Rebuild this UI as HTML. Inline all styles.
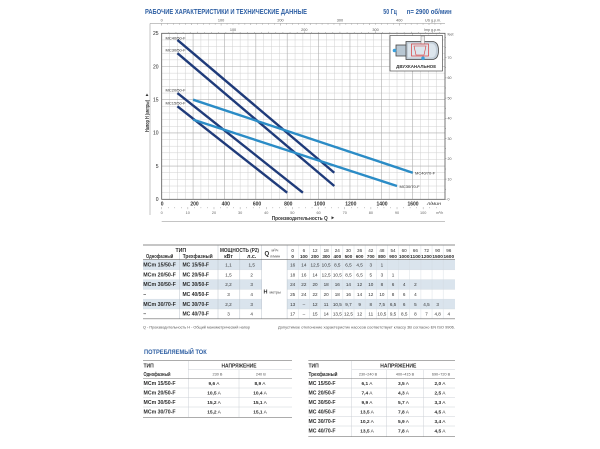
<!DOCTYPE html>
<html><head><meta charset="utf-8"><style>
html,body{margin:0;padding:0;background:#fff;}
svg{display:block;font-family:"Liberation Sans","DejaVu Sans",sans-serif;}
</style></head><body>
<svg width="600" height="449" viewBox="0 0 600 449" xmlns="http://www.w3.org/2000/svg">
<rect width="600" height="449" fill="#fff"/>

<!-- Title -->
<text x="145" y="14" font-size="7" font-weight="bold" fill="#2e5fa3" textLength="162" lengthAdjust="spacingAndGlyphs">РАБОЧИЕ ХАРАКТЕРИСТИКИ И ТЕХНИЧЕСКИЕ ДАННЫЕ</text>
<text x="383.3" y="14" font-size="7" font-weight="bold" fill="#2e5fa3" textLength="13.5" lengthAdjust="spacingAndGlyphs">50 Гц</text>
<text x="406.7" y="14" font-size="7" font-weight="bold" fill="#2e5fa3" textLength="45" lengthAdjust="spacingAndGlyphs">n= 2900 об/мин</text>

<!-- outer bracket lines -->
<path d="M150 23.5H445M150 23.5V215M161.7 221.7H445" stroke="#8a8a8a" stroke-width="0.5" fill="none"/>

<!-- grid minor -->
<path stroke="#d0d0d0" stroke-width="0.5" fill="none" d="M169.54 33.3V199.3M177.39 33.3V199.3M185.23 33.3V199.3M200.92 33.3V199.3M208.76 33.3V199.3M216.61 33.3V199.3M232.3 33.3V199.3M240.14 33.3V199.3M247.98 33.3V199.3M263.67 33.3V199.3M271.52 33.3V199.3M279.36 33.3V199.3M295.05 33.3V199.3M302.89 33.3V199.3M310.74 33.3V199.3M326.42 33.3V199.3M334.27 33.3V199.3M342.11 33.3V199.3M357.8 33.3V199.3M365.64 33.3V199.3M373.49 33.3V199.3M389.18 33.3V199.3M397.02 33.3V199.3M404.86 33.3V199.3M420.55 33.3V199.3M428.4 33.3V199.3M436.24 33.3V199.3
M161.7 192.66H445M161.7 186.02H445M161.7 179.38H445M161.7 172.74H445M161.7 159.46H445M161.7 152.82H445M161.7 146.18H445M161.7 139.54H445M161.7 126.26H445M161.7 119.62H445M161.7 112.98H445M161.7 106.34H445M161.7 93.06H445M161.7 86.42H445M161.7 79.78H445M161.7 73.14H445M161.7 59.86H445M161.7 53.22H445M161.7 46.58H445M161.7 39.94H445"/>
<!-- grid major -->
<path stroke="#adadad" stroke-width="0.6" fill="none" d="M193.08 33.3V199.3M224.45 33.3V199.3M255.83 33.3V199.3M287.2 33.3V199.3M318.58 33.3V199.3M349.96 33.3V199.3M381.33 33.3V199.3M412.71 33.3V199.3M161.7 166.1H445M161.7 132.9H445M161.7 99.7H445M161.7 66.5H445"/>
<!-- frame -->
<rect x="161.7" y="33.3" width="283.3" height="166" fill="none" stroke="#555" stroke-width="0.8"/>

<!-- top axes -->
<g stroke="#777" stroke-width="0.4">
<path d="M161.7 23.5v2M167.64 23.5v1.2M173.58 23.5v1.2M179.52 23.5v1.2M185.46 23.5v1.2M191.4 23.5v1.5M197.34 23.5v1.2M203.28 23.5v1.2M209.22 23.5v1.2M215.16 23.5v1.2M221.1 23.5v2M227.04 23.5v1.2M232.98 23.5v1.2M238.92 23.5v1.2M244.86 23.5v1.2M250.8 23.5v1.5M256.74 23.5v1.2M262.68 23.5v1.2M268.62 23.5v1.2M274.56 23.5v1.2M280.5 23.5v2M286.44 23.5v1.2M292.38 23.5v1.2M298.32 23.5v1.2M304.26 23.5v1.2M310.2 23.5v1.5M316.14 23.5v1.2M322.08 23.5v1.2M328.02 23.5v1.2M333.96 23.5v1.2M339.9 23.5v2M345.84 23.5v1.2M351.78 23.5v1.2M357.72 23.5v1.2M363.66 23.5v1.2M369.6 23.5v1.5M375.54 23.5v1.2M381.48 23.5v1.2M387.42 23.5v1.2M393.36 23.5v1.2M399.3 23.5v2M405.24 23.5v1.2M411.18 23.5v1.2M417.12 23.5v1.2M423.06 23.5v1.2M429 23.5v1.5M434.94 23.5v1.2M440.88 23.5v1.2"/>
<path d="M168.83 33.3v-1.2M175.96 33.3v-1.2M183.09 33.3v-1.2M190.22 33.3v-1.2M197.35 33.3v-1.5M204.48 33.3v-1.2M211.61 33.3v-1.2M218.74 33.3v-1.2M225.87 33.3v-1.2M233 33.3v-2M240.13 33.3v-1.2M247.26 33.3v-1.2M254.39 33.3v-1.2M261.52 33.3v-1.2M268.65 33.3v-1.5M275.78 33.3v-1.2M282.91 33.3v-1.2M290.04 33.3v-1.2M297.17 33.3v-1.2M304.3 33.3v-2M311.43 33.3v-1.2M318.56 33.3v-1.2M325.69 33.3v-1.2M332.82 33.3v-1.2M339.95 33.3v-1.5M347.08 33.3v-1.2M354.21 33.3v-1.2M361.34 33.3v-1.2M368.47 33.3v-1.2M375.6 33.3v-2M382.73 33.3v-1.2M389.86 33.3v-1.2M396.99 33.3v-1.2M404.12 33.3v-1.2M411.25 33.3v-1.5M418.38 33.3v-1.2M425.51 33.3v-1.2M432.64 33.3v-1.2M439.77 33.3v-1.2"/>
</g>
<g font-size="3.8" fill="#555" text-anchor="middle">
<text x="161.7" y="21.5">0</text><text x="221.1" y="21.5">100</text><text x="280.5" y="21.5">200</text><text x="339.9" y="21.5">300</text><text x="399.3" y="21.5">400</text>
<text x="233" y="30.8">100</text><text x="304.3" y="30.8">200</text><text x="375.6" y="30.8">300</text>
</g>
<text x="425" y="21.5" font-size="3.6" fill="#555">US g.p.m.</text>
<text x="424" y="30.8" font-size="3.6" fill="#555">Imp g.p.m.</text>

<!-- left axis labels -->
<g font-size="5" fill="#222" text-anchor="end">
<text x="158.5" y="35.1">25</text><text x="158.5" y="68.3">20</text><text x="158.5" y="101.5">15</text><text x="158.5" y="134.7">10</text><text x="158.5" y="167.9">5</text><text x="158.5" y="201.1">0</text>
</g>
<!-- y axis title -->
<text transform="translate(149,132) rotate(-90)" font-size="5" font-weight="bold" fill="#333" textLength="32" lengthAdjust="spacingAndGlyphs">Напор H (метры)</text>
<polygon points="145.6,96 148.4,96 147,93.5" fill="#333"/>

<!-- right axis feet -->
<g stroke="#666" stroke-width="0.4">
<path d="M445 199.3h1.5M445 189.2h1M445 179.1h1.5M445 169h1M445 158.8h1.5M445 148.7h1M445 138.6h1.5M445 128.5h1M445 118.3h1.5M445 108.2h1M445 98.1h1.5M445 88h1M445 77.9h1.5M445 67.7h1M445 57.6h1.5M445 47.5h1M445 37.4h1"/>
</g>
<g font-size="3.6" fill="#555">
<text x="447.5" y="200.6">0</text><text x="447.5" y="180.4">10</text><text x="447.5" y="160.1">20</text><text x="447.5" y="139.9">30</text><text x="447.5" y="119.6">40</text><text x="447.5" y="99.4">50</text><text x="447.5" y="79.2">60</text><text x="447.5" y="58.9">70</text><text x="447.5" y="35.3">feet</text>
</g>

<!-- bottom l/min labels -->
<g font-size="5" font-weight="bold" fill="#333" text-anchor="middle">
<text x="162.2" y="205.3">0</text><text x="194.5" y="205.3">200</text><text x="225.8" y="205.3">400</text><text x="257" y="205.3">600</text><text x="288.3" y="205.3">800</text><text x="319.6" y="205.3">1000</text><text x="350.8" y="205.3">1200</text><text x="382" y="205.3">1400</text><text x="413" y="205.3">1600</text>
</g>
<text x="427" y="205" font-size="4.2" font-style="italic" fill="#333" textLength="14" lengthAdjust="spacingAndGlyphs">л/мин</text>
<!-- m3/h ticks & labels -->
<path stroke="#888" stroke-width="0.4" fill="none" d="M161.7 207v2.2M168.24 207v1.2M174.77 207v1.2M181.31 207v1.2M187.84 207v2.2M194.38 207v1.2M200.92 207v1.2M207.45 207v1.2M213.99 207v2.2M220.53 207v1.2M227.07 207v1.2M233.6 207v1.2M240.14 207v2.2M246.68 207v1.2M253.2 207v1.2M259.75 207v1.2M266.29 207v2.2M272.83 207v1.2M279.36 207v1.2M285.9 207v1.2M292.44 207v2.2M298.98 207v1.2M305.5 207v1.2M312.05 207v1.2M318.58 207v2.2M325.12 207v1.2M331.66 207v1.2M338.2 207v1.2M344.73 207v2.2M351.27 207v1.2M357.8 207v1.2M364.34 207v1.2M370.88 207v2.2M377.42 207v1.2M383.95 207v1.2M390.5 207v1.2M397.03 207v2.2M403.57 207v1.2M410.1 207v1.2M416.64 207v1.2M423.17 207v2.2M429.7 207v1.2M436.25 207v1.2"/>
<g font-size="3.8" fill="#666" text-anchor="middle">
<text x="161.7" y="214.2">0</text><text x="187.8" y="214.2">10</text><text x="214" y="214.2">20</text><text x="240.1" y="214.2">30</text><text x="266.3" y="214.2">40</text><text x="292.4" y="214.2">50</text><text x="318.6" y="214.2">60</text><text x="344.7" y="214.2">70</text><text x="370.9" y="214.2">80</text><text x="397" y="214.2">90</text><text x="423.2" y="214.2">100</text>
</g>
<text x="436" y="214" font-size="3.6" fill="#666">m³/h</text>
<text x="271.7" y="219.8" font-size="5.2" font-weight="bold" fill="#333" textLength="56" lengthAdjust="spacingAndGlyphs">Производительность Q</text>
<polygon points="331.5,216.2 331.5,219.4 334.2,217.8" fill="#333"/>

<!-- curves -->
<g stroke-linecap="butt" fill="none" stroke-width="2.4">
<line x1="177.4" y1="39.94" x2="334.3" y2="172.74" stroke="#1f3b7a"/>
<line x1="177.4" y1="53.22" x2="334.3" y2="186.02" stroke="#1f3b7a"/>
<line x1="177.4" y1="93.06" x2="302.9" y2="192.66" stroke="#1f3b7a"/>
<line x1="177.4" y1="106.34" x2="287.2" y2="192.66" stroke="#1f3b7a"/>
<line x1="193.1" y1="99.7" x2="412.7" y2="172.74" stroke="#2b8cc6"/>
<line x1="193.1" y1="119.62" x2="397" y2="186.02" stroke="#2b8cc6"/>
</g>
<g font-size="4" fill="#333">
<text x="165.5" y="39.6">MC40/50-F</text>
<text x="165.5" y="51.3">MC30/50-F</text>
<text x="165.5" y="91.3">MC20/50-F</text>
<text x="165.5" y="104.6">MC15/50-F</text>
<text x="415" y="174.5">MC40/70-F</text>
<text x="399.5" y="188">MC30/70-F</text>
</g>

<!-- inset -->
<rect x="390" y="35.5" width="52.5" height="35.5" fill="#fff" stroke="#333" stroke-width="0.6"/>
<rect x="396" y="45" width="11" height="11" fill="#b9c7d2" stroke="#444" stroke-width="0.8"/>
<path d="M406 41.5H432Q438.5 41.5 438.5 50.5Q438.5 59.5 432 59.5H406Z" fill="#c3ced8" stroke="#444" stroke-width="0.8"/>
<path d="M408 43.5H431Q436 43.5 436 50.5Q436 57.5 431 57.5H408Z" fill="#dde6ed"/>
<rect x="421" y="36" width="3.5" height="8" fill="#f2f2f2" stroke="#666" stroke-width="0.4"/>
<rect x="411.5" y="44" width="17" height="12" fill="none" stroke="#d83a3a" stroke-width="0.7"/>
<path d="M414 46H426L424 55H416Z" fill="none" stroke="#d83a3a" stroke-width="0.6"/>
<circle cx="394.5" cy="50.5" r="1.8" fill="#3aa0dc"/>
<circle cx="423" cy="58.3" r="1.8" fill="#3aa0dc"/>
<text x="416.2" y="68" font-size="4.2" font-weight="bold" fill="#333" text-anchor="middle" textLength="40" lengthAdjust="spacingAndGlyphs">ДВУХКАНАЛЬНОЕ</text>

<!-- ===== MAIN TABLE ===== -->
<g fill="#dae4ed">
<rect x="143" y="260" width="118.7" height="9.8"/>
<rect x="287.1" y="260" width="167.9" height="9.8"/>
<rect x="143" y="279.6" width="118.7" height="9.8"/>
<rect x="287.1" y="279.6" width="167.9" height="9.8"/>
<rect x="143" y="299.2" width="118.7" height="9.8"/>
<rect x="287.1" y="299.2" width="167.9" height="9.8"/>
</g>
<g stroke="#d2d9e0" stroke-width="0.4" fill="none">
<path d="M298.25 245V318.8M309.4 245V318.8M320.55 245V318.8M331.7 245V318.8M342.85 245V318.8M354 245V318.8M365.15 245V318.8M376.3 245V318.8M387.45 245V318.8M398.6 245V318.8M409.75 245V318.8M420.9 245V318.8M432.05 245V318.8M443.2 245V318.8"/>
<path d="M143 269.8H261.7M287.1 269.8H455M143 279.6H261.7M287.1 279.6H455M143 289.4H261.7M287.1 289.4H455M143 299.2H261.7M287.1 299.2H455M143 309H261.7M287.1 309H455"/>
</g>
<g stroke="#bcc4cc" stroke-width="0.5" fill="none">
<path d="M179.5 252V318.8M218 245V318.8M239.8 252V318.8M261.7 245V318.8M287.1 245V318.8"/>
</g>
<path d="M143 245H455M143 259.7H455M143 318.8H455" stroke="#6a6a6a" stroke-width="0.7" fill="none"/>

<g font-weight="bold" fill="#2b2b2b" font-size="5.2">
<text x="180.8" y="252" text-anchor="middle">ТИП</text>
<text x="220" y="252" textLength="39" lengthAdjust="spacingAndGlyphs">МОЩНОСТЬ (P2)</text>
<text x="146" y="257.8" textLength="27.3" lengthAdjust="spacingAndGlyphs">Однофазный</text>
<text x="182.7" y="257.8" textLength="30" lengthAdjust="spacingAndGlyphs">Трехфазный</text>
<text x="228.5" y="257.8" text-anchor="middle">кВт</text>
<text x="251.7" y="257.8" text-anchor="middle">л.с.</text>
<text x="264.5" y="255.5" font-size="6">Q</text>
<text x="263.5" y="293.5" font-size="5.5">H</text>
</g>
<g fill="#444" font-size="3.8">
<text x="271.5" y="251.6">м³/ч</text>
<text x="270" y="257.6">л/мин</text>
<text x="269.5" y="293.3">метры</text>
</g>
<!-- data headers -->
<g font-size="4.6" fill="#333" text-anchor="middle">
<text x="292.7" y="251.9">0</text><text x="303.85" y="251.9">6</text><text x="315" y="251.9">12</text><text x="326.15" y="251.9">18</text><text x="337.3" y="251.9">24</text><text x="348.45" y="251.9">30</text><text x="359.6" y="251.9">36</text><text x="370.75" y="251.9">42</text><text x="381.9" y="251.9">48</text><text x="393.05" y="251.9">54</text><text x="404.2" y="251.9">60</text><text x="415.35" y="251.9">66</text><text x="426.5" y="251.9">72</text><text x="437.65" y="251.9">90</text><text x="448.8" y="251.9">96</text>
</g>
<g font-size="4.6" font-weight="bold" fill="#2b2b2b" text-anchor="middle">
<text x="292.7" y="257.8">0</text><text x="303.85" y="257.8">100</text><text x="315" y="257.8">200</text><text x="326.15" y="257.8">300</text><text x="337.3" y="257.8">400</text><text x="348.45" y="257.8">500</text><text x="359.6" y="257.8">600</text><text x="370.75" y="257.8">700</text><text x="381.9" y="257.8">800</text><text x="393.05" y="257.8">900</text><text x="404.2" y="257.8" textLength="10.6" lengthAdjust="spacingAndGlyphs">1000</text><text x="415.35" y="257.8" textLength="10.6" lengthAdjust="spacingAndGlyphs">1100</text><text x="426.5" y="257.8" textLength="10.6" lengthAdjust="spacingAndGlyphs">1200</text><text x="437.65" y="257.8" textLength="10.6" lengthAdjust="spacingAndGlyphs">1500</text><text x="448.8" y="257.8" textLength="10.6" lengthAdjust="spacingAndGlyphs">1600</text>
</g>
<!-- model names -->
<g font-size="5.2" font-weight="bold" fill="#2b2b2b">
<text x="143.3" y="266.6" textLength="32.5" lengthAdjust="spacingAndGlyphs">MCm 15/50-F</text>
<text x="143.3" y="276.4" textLength="32.5" lengthAdjust="spacingAndGlyphs">MCm 20/50-F</text>
<text x="143.3" y="286.2" textLength="32.5" lengthAdjust="spacingAndGlyphs">MCm 30/50-F</text>
<text x="143.3" y="296">–</text>
<text x="143.3" y="305.8" textLength="32.5" lengthAdjust="spacingAndGlyphs">MCm 30/70-F</text>
<text x="143.3" y="315.6">–</text>
<text x="182.5" y="266.6" textLength="26.5" lengthAdjust="spacingAndGlyphs">MC 15/50-F</text>
<text x="182.5" y="276.4" textLength="26.5" lengthAdjust="spacingAndGlyphs">MC 20/50-F</text>
<text x="182.5" y="286.2" textLength="26.5" lengthAdjust="spacingAndGlyphs">MC 30/50-F</text>
<text x="182.5" y="296" textLength="26.5" lengthAdjust="spacingAndGlyphs">MC 40/50-F</text>
<text x="182.5" y="305.8" textLength="26.5" lengthAdjust="spacingAndGlyphs">MC 30/70-F</text>
<text x="182.5" y="315.6" textLength="26.5" lengthAdjust="spacingAndGlyphs">MC 40/70-F</text>
</g>
<g font-size="4.6" fill="#333" text-anchor="middle">
<text x="228.5" y="266.6">1,1</text><text x="251.7" y="266.6">1,5</text>
<text x="228.5" y="276.4">1,5</text><text x="251.7" y="276.4">2</text>
<text x="228.5" y="286.2">2,2</text><text x="251.7" y="286.2">3</text>
<text x="228.5" y="296">3</text><text x="251.7" y="296">4</text>
<text x="228.5" y="305.8">2,2</text><text x="251.7" y="305.8">3</text>
<text x="228.5" y="315.6">3</text><text x="251.7" y="315.6">4</text>
</g>
<!-- data values -->
<g font-size="4.6" fill="#333" text-anchor="middle">
<text x="292.7" y="266.6">16</text><text x="303.85" y="266.6">14</text><text x="315" y="266.6">12,5</text><text x="326.15" y="266.6">10,5</text><text x="337.3" y="266.6">8,5</text><text x="348.45" y="266.6">6,5</text><text x="359.6" y="266.6">4,5</text><text x="370.75" y="266.6">3</text><text x="381.9" y="266.6">1</text>

<text x="292.7" y="276.4">18</text><text x="303.85" y="276.4">16</text><text x="315" y="276.4">14</text><text x="326.15" y="276.4">12,5</text><text x="337.3" y="276.4">10,5</text><text x="348.45" y="276.4">8,5</text><text x="359.6" y="276.4">6,5</text><text x="370.75" y="276.4">5</text><text x="381.9" y="276.4">3</text><text x="393.05" y="276.4">1</text>

<text x="292.7" y="286.2">24</text><text x="303.85" y="286.2">22</text><text x="315" y="286.2">20</text><text x="326.15" y="286.2">18</text><text x="337.3" y="286.2">16</text><text x="348.45" y="286.2">14</text><text x="359.6" y="286.2">12</text><text x="370.75" y="286.2">10</text><text x="381.9" y="286.2">8</text><text x="393.05" y="286.2">6</text><text x="404.2" y="286.2">4</text><text x="415.35" y="286.2">2</text>

<text x="292.7" y="296">25</text><text x="303.85" y="296">24</text><text x="315" y="296">22</text><text x="326.15" y="296">20</text><text x="337.3" y="296">18</text><text x="348.45" y="296">16</text><text x="359.6" y="296">14</text><text x="370.75" y="296">12</text><text x="381.9" y="296">10</text><text x="393.05" y="296">8</text><text x="404.2" y="296">6</text><text x="415.35" y="296">4</text>

<text x="292.7" y="305.8">13</text><text x="303.85" y="305.8">–</text><text x="315" y="305.8">12</text><text x="326.15" y="305.8">11</text><text x="337.3" y="305.8">10,5</text><text x="348.45" y="305.8">9,7</text><text x="359.6" y="305.8">9</text><text x="370.75" y="305.8">8</text><text x="381.9" y="305.8">7,5</text><text x="393.05" y="305.8">6,5</text><text x="404.2" y="305.8">6</text><text x="415.35" y="305.8">5</text><text x="426.5" y="305.8">4,5</text><text x="437.65" y="305.8">3</text>

<text x="292.7" y="315.6">17</text><text x="303.85" y="315.6">–</text><text x="315" y="315.6">15</text><text x="326.15" y="315.6">14</text><text x="337.3" y="315.6">13,5</text><text x="348.45" y="315.6">12,5</text><text x="359.6" y="315.6">12</text><text x="370.75" y="315.6">11</text><text x="381.9" y="315.6">10,5</text><text x="393.05" y="315.6">9,5</text><text x="404.2" y="315.6">8,5</text><text x="415.35" y="315.6">8</text><text x="426.5" y="315.6">7</text><text x="437.65" y="315.6">4,8</text><text x="448.8" y="315.6">4</text>
</g>
<!-- footnotes -->
<text x="143" y="328.7" font-size="3.7" fill="#555" textLength="107" lengthAdjust="spacingAndGlyphs">Q - Производительность   H - Общий манометрический напор</text>
<text x="278" y="328.7" font-size="3.7" fill="#555" textLength="177" lengthAdjust="spacingAndGlyphs">Допустимое отклонение характеристик насосов соответствует классу 3B согласно EN ISO 9906.</text>

<!-- ===== CURRENT ===== -->
<text x="144" y="354.2" font-size="6.5" font-weight="bold" fill="#2e5fa3" textLength="62.7" lengthAdjust="spacingAndGlyphs">ПОТРЕБЛЯЕМЫЙ ТОК</text>

<g stroke="#c8cdd2" stroke-width="0.45" fill="none">
<path d="M188.3 360.7V417.3M239 369.7V417.3M188.3 369.7H292M143 388H292M143 397.5H292M143 407H292"/>
<path d="M351.7 360.7V436.7M386.5 369.7V436.7M423.3 369.7V436.7M351.7 369.7H455M308.3 388H455M308.3 397.5H455M308.3 407H455M308.3 416.5H455M308.3 426H455"/>
</g>
<path d="M143 360.7H292M143 378.5H292M143 417.3H292M308.3 360.7H455M308.3 378.5H455M308.3 436.7H455" stroke="#7a7a7a" stroke-width="0.6" fill="none"/>

<g font-size="5" font-weight="bold" fill="#2b2b2b">
<text x="143.5" y="367.5">ТИП</text>
<text x="239" y="367.5" text-anchor="middle" textLength="35" lengthAdjust="spacingAndGlyphs">НАПРЯЖЕНИЕ</text>
<text x="143.5" y="375.8" textLength="27" lengthAdjust="spacingAndGlyphs">Однофазный</text>
<text x="143.5" y="385.1" textLength="32" lengthAdjust="spacingAndGlyphs">MCm 15/50-F</text>
<text x="143.5" y="394.5" textLength="32" lengthAdjust="spacingAndGlyphs">MCm 20/50-F</text>
<text x="143.5" y="404" textLength="32" lengthAdjust="spacingAndGlyphs">MCm 30/50-F</text>
<text x="143.5" y="413.5" textLength="32" lengthAdjust="spacingAndGlyphs">MCm 30/70-F</text>

<text x="308.5" y="367.5">ТИП</text>
<text x="398.3" y="367.5" text-anchor="middle" textLength="36" lengthAdjust="spacingAndGlyphs">НАПРЯЖЕНИЕ</text>
<text x="308.5" y="375.8" textLength="29" lengthAdjust="spacingAndGlyphs">Трехфазный</text>
<text x="308.5" y="385.1" textLength="27" lengthAdjust="spacingAndGlyphs">MC 15/50-F</text>
<text x="308.5" y="394.5" textLength="27" lengthAdjust="spacingAndGlyphs">MC 20/50-F</text>
<text x="308.5" y="404" textLength="27" lengthAdjust="spacingAndGlyphs">MC 30/50-F</text>
<text x="308.5" y="413.5" textLength="27" lengthAdjust="spacingAndGlyphs">MC 40/50-F</text>
<text x="308.5" y="423" textLength="27" lengthAdjust="spacingAndGlyphs">MC 30/70-F</text>
<text x="308.5" y="432.5" textLength="27" lengthAdjust="spacingAndGlyphs">MC 40/70-F</text>
</g>
<g font-size="3.8" fill="#555" text-anchor="middle">
<text x="217.5" y="375.6">230 В</text><text x="260.8" y="375.6">240 В</text>
<text x="368" y="375.6">230÷240 В</text><text x="405" y="375.6">400÷415 В</text><text x="441" y="375.6">690÷720 В</text>
</g>
<g font-size="4.8" fill="#2b2b2b" text-anchor="middle">
<text x="214" y="385.1"><tspan font-weight="bold">9,6</tspan> A</text><text x="260" y="385.1"><tspan font-weight="bold">8,9</tspan> A</text>
<text x="214" y="394.5"><tspan font-weight="bold">10,5</tspan> A</text><text x="260" y="394.5"><tspan font-weight="bold">10,4</tspan> A</text>
<text x="214" y="404"><tspan font-weight="bold">15,2</tspan> A</text><text x="260" y="404"><tspan font-weight="bold">15,1</tspan> A</text>
<text x="214" y="413.5"><tspan font-weight="bold">15,2</tspan> A</text><text x="260" y="413.5"><tspan font-weight="bold">15,1</tspan> A</text>

<text x="367" y="385.1"><tspan font-weight="bold">6,1</tspan> A</text><text x="403.5" y="385.1"><tspan font-weight="bold">3,5</tspan> A</text><text x="440" y="385.1"><tspan font-weight="bold">2,0</tspan> A</text>
<text x="367" y="394.5"><tspan font-weight="bold">7,4</tspan> A</text><text x="403.5" y="394.5"><tspan font-weight="bold">4,3</tspan> A</text><text x="440" y="394.5"><tspan font-weight="bold">2,5</tspan> A</text>
<text x="367" y="404"><tspan font-weight="bold">9,9</tspan> A</text><text x="403.5" y="404"><tspan font-weight="bold">5,7</tspan> A</text><text x="440" y="404"><tspan font-weight="bold">3,3</tspan> A</text>
<text x="367" y="413.5"><tspan font-weight="bold">13,5</tspan> A</text><text x="403.5" y="413.5"><tspan font-weight="bold">7,8</tspan> A</text><text x="440" y="413.5"><tspan font-weight="bold">4,5</tspan> A</text>
<text x="367" y="423"><tspan font-weight="bold">10,2</tspan> A</text><text x="403.5" y="423"><tspan font-weight="bold">5,9</tspan> A</text><text x="440" y="423"><tspan font-weight="bold">3,4</tspan> A</text>
<text x="367" y="432.5"><tspan font-weight="bold">13,5</tspan> A</text><text x="403.5" y="432.5"><tspan font-weight="bold">7,8</tspan> A</text><text x="440" y="432.5"><tspan font-weight="bold">4,5</tspan> A</text>
</g>
</svg>
</body></html>
